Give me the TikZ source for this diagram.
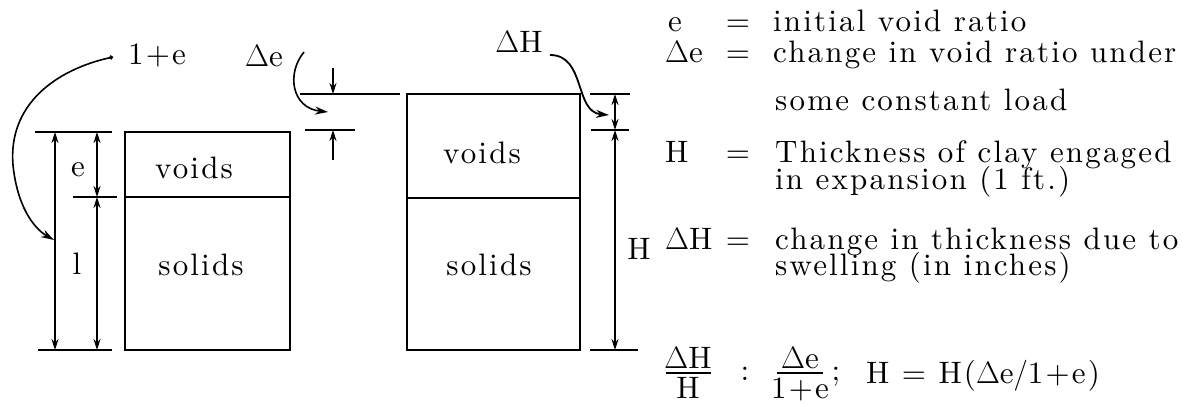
\RequirePackage{fix-cm}
\documentclass[tikz,border=0pt]{standalone}
\usepackage{fontspec}
\usetikzlibrary{arrows.meta}
\newfontfamily\twf{lmroman10-regular.otf}[LetterSpace=7]
\newcommand\tw{\fontsize{31}{37}\selectfont\twf}
\newcommand\Dl{$\Delta$}
\begin{document}
\begin{tikzpicture}[x=1pt,y=-1pt,
  lbl/.style={font=\tw, inner sep=0pt},
  txt/.style={font=\tw, inner sep=0pt, anchor=base west},
  num/.style={font=\tw, inner sep=0pt, anchor=base},
  box/.style={draw, line width=2pt, inner sep=0pt},
  divl/.style={line width=2pt},
  dim/.style={line width=1.4pt},
  fbar/.style={line width=1.3pt},
  dimarr/.style={line width=1.4pt, {Stealth[length=11pt,width=7pt]}-{Stealth[length=11pt,width=7pt]}},
  onearr/.style={line width=1.4pt, -{Stealth[length=11pt,width=7pt]}},
  curv/.style={line width=1.6pt, {Circle[length=4pt]}-{Stealth[length=13pt,width=8pt]}}
]
\useasboundingbox (0,0) rectangle (1194,406);

% boxes
\node[box, minimum width=165pt, minimum height=218pt] (LB) at (207.5,241) {};
\node[box, minimum width=173pt, minimum height=256pt] (RB) at (493.5,222) {};
\coordinate (LBl) at (125,197); \coordinate (LBr) at (290,197);
\coordinate (RBl) at (407,198); \coordinate (RBr) at (580,198);
\draw[divl] (LBl) -- (LBr);
\draw[divl] (RBl) -- (RBr);

\node[lbl] (lv) at (194,168) {voids};
\node[lbl] (ls) at (201,265) {solids};
\node[lbl] (rv) at (482,153) {voids};
\node[lbl] (rs) at (489,265) {solids};

% left dimensions
\coordinate (L1a) at (35,132); \coordinate (L1b) at (112,132);
\coordinate (L2a) at (73,197); \coordinate (L2b) at (117,197);
\coordinate (L3a) at (38,350); \coordinate (L3b) at (112,350);
\draw[dim] (L1a) -- (L1b);
\draw[dim] (L2a) -- (L2b);
\draw[dim] (L3a) -- (L3b);
\coordinate (A1t) at (55,132); \coordinate (A1b) at (55,350);
\coordinate (A2t) at (97,132); \coordinate (A2m) at (97,197); \coordinate (A2b) at (97,350);
\draw[dimarr] (A1t) -- (A1b);
\draw[dimarr] (A2t) -- (A2m);
\draw[dimarr] (A2m) -- (A2b);
\node[lbl] (le) at (78,170) {e};
\node[lbl] (l1) at (77,264) {l};

% 1+e label and curved arrow
\node[lbl] (lone) at (157,55) {1+e};
\coordinate (c1s) at (113,57);
\coordinate (c1e) at (54,240);
\draw[curv] (c1s) .. controls (55,70) and (8,105) .. (13,165) .. controls (17,205) and (33,228) .. (c1e);

% Delta e label, arrow and dimension
\node[lbl] (lde) at (264,56) {\Dl e};
\coordinate (ces) at (304,52);
\coordinate (cee) at (328,112);
\draw[line width=1.6pt, -{Stealth[length=13pt,width=8pt]}] (ces) .. controls (286,74) and (292,108) .. (cee);
\coordinate (D1a) at (300,94); \coordinate (D1b) at (400,94);
\coordinate (D2a) at (305,130); \coordinate (D2b) at (355,130);
\draw[dim] (D1a) -- (D1b);
\draw[dim] (D2a) -- (D2b);
\coordinate (DeT) at (333,68); \coordinate (DeTt) at (333,94);
\coordinate (DeB) at (333,160); \coordinate (DeBt) at (333,130);
\draw[onearr] (DeT) -- (DeTt);
\draw[onearr] (DeB) -- (DeBt);

% Delta H label, arrow and dimensions
\node[lbl] (ldH) at (519,42) {\Dl H};
\coordinate (chs) at (550,55);
\coordinate (che) at (609,115);
\draw[line width=1.8pt, -{Stealth[length=13pt,width=8pt]}] (chs) .. controls (586,55) and (574,112) .. (che);
\coordinate (R1a) at (590,94); \coordinate (R1b) at (630,94);
\coordinate (R2a) at (591,130); \coordinate (R2b) at (629,130);
\coordinate (R3a) at (590,350); \coordinate (R3b) at (638,350);
\draw[dim] (R1a) -- (R1b);
\draw[dim] (R2a) -- (R2b);
\draw[dim] (R3a) -- (R3b);
\coordinate (H1) at (615,94); \coordinate (H2) at (615,130); \coordinate (H3) at (615,350);
\draw[dimarr] (H1) -- (H2);
\draw[dimarr] (H2) -- (H3);
\node[lbl] (lH) at (639,249) {H};

% legend
\node[txt] (k1) at (668,32) {e};
\node[num] (q1) at (738,32) {=};
\node[txt] (t1) at (773,32) {initial void ratio};
\node[txt] (k2) at (665,63) {\Dl e};
\node[num] (q2) at (738,63) {=};
\node[txt] (t2) at (773,63) {change in void ratio under};
\node[txt] (t2b) at (775,111) {some constant load};
\node[txt] (k3) at (665,163) {H};
\node[num] (q3) at (738,163) {=};
\node[txt] (t3) at (775,163) {Thickness of clay engaged};
\node[txt] (t3b) at (775,190) {in expansion (1 ft.)};
\node[txt] (k4) at (665,249) {\Dl H};
\node[num] (q4) at (738,249) {=};
\node[txt] (t4) at (775,249) {change in thickness due to};
\node[txt] (t4b) at (775,275) {swelling (in inches)};

% formula
\node[num] (fn1) at (688,368) {\Dl H};
\coordinate (fb1a) at (666,373); \coordinate (fb1b) at (711,373);
\draw[fbar] (fb1a) -- (fb1b);
\node[num] (fd1) at (688,398) {H};
\node[num] (fc) at (745,380) {:};
\node[num] (fn2) at (800,368) {\Dl e};
\coordinate (fb2a) at (777,373); \coordinate (fb2b) at (823,373);
\draw[fbar] (fb2a) -- (fb2b);
\node[num] (fd2) at (800,398) {1+e};
\node[num] (fs) at (836,380) {;};
\node[txt] (f3) at (866,383) {H = H(\Dl e$\Big/$1+e)};
\end{tikzpicture}
\end{document}
